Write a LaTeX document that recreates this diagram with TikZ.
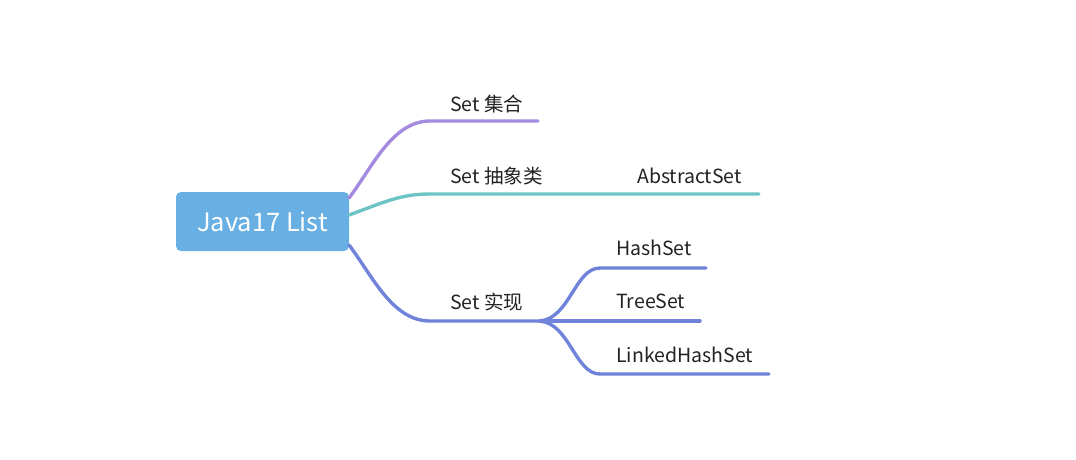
\documentclass[tikz,border=0pt]{standalone}
\usepackage{fontspec}
\setmainfont{Noto Sans CJK SC}
\definecolor{rootblue}{HTML}{68B0E3}
\definecolor{brpurple}{HTML}{A58BE0}
\definecolor{brteal}{HTML}{6CC4C4}
\definecolor{brblue}{HTML}{7083DB}
\definecolor{txtgray}{HTML}{222222}
\tikzset{
  branch/.style={line width=3.4pt,line cap=round},
  lbl/.style={anchor=base west,inner sep=0pt,text=txtgray,font=\fontsize{19.5}{23}\selectfont},
}
\begin{document}
\begin{tikzpicture}[x=1pt,y=-1pt]
    \useasboundingbox (0,0) rectangle (1076,459);

    \node[rectangle,rounded corners=5pt,fill=rootblue,minimum width=173pt,minimum height=59pt,text=white,font=\fontsize{25.5}{30}\selectfont] (root) at (262.5,221.5) {Java17 List};

    \node[lbl] (S1) at (450,111){Set 集合};
    \node[lbl] (S2) at (450,183){Set 抽象类};
    \node[lbl] (S3) at (450,309){Set 实现};

    \node[lbl] (A1) at (637,183){AbstractSet};

    \node[lbl] (H1) at (616,255){HashSet};
    \node[lbl] (T1) at (616,308){TreeSet};
    \node[lbl] (L1) at (616,362){LinkedHashSet};

    \coordinate (r1) at (349,198);
    \coordinate (r2) at (349,215);
    \coordinate (r3) at (349,245);

    \coordinate (b1) at (430,121);
    \coordinate (e1) at (538,121);
    \coordinate (b2) at (430,194);
    \coordinate (e2) at (759,194);
    \coordinate (b3) at (430,321);
    \coordinate (e3) at (540,321);

    \coordinate (h0) at (600,268);
    \coordinate (h1) at (706,268);
    \coordinate (t1) at (700,321);
    \coordinate (l0) at (600,374);
    \coordinate (l1) at (769,374);

    \draw[branch,brpurple] (r1) .. controls (372,168) and (392,121) .. (b1) -- (e1);
    \draw[branch,brteal] (r2) .. controls (385,202) and (400,194) .. (b2) -- (e2);
    \draw[branch,brblue] (r3) .. controls (372,275) and (392,321) .. (b3) -- (e3);

    \draw[branch,brblue] (e3) .. controls (570,318) and (575,268) .. (h0) -- (h1);
    \draw[branch,brblue] (e3) -- (t1);
    \draw[branch,brblue] (e3) .. controls (570,324) and (575,374) .. (l0) -- (l1);

\end{tikzpicture}
\end{document}
